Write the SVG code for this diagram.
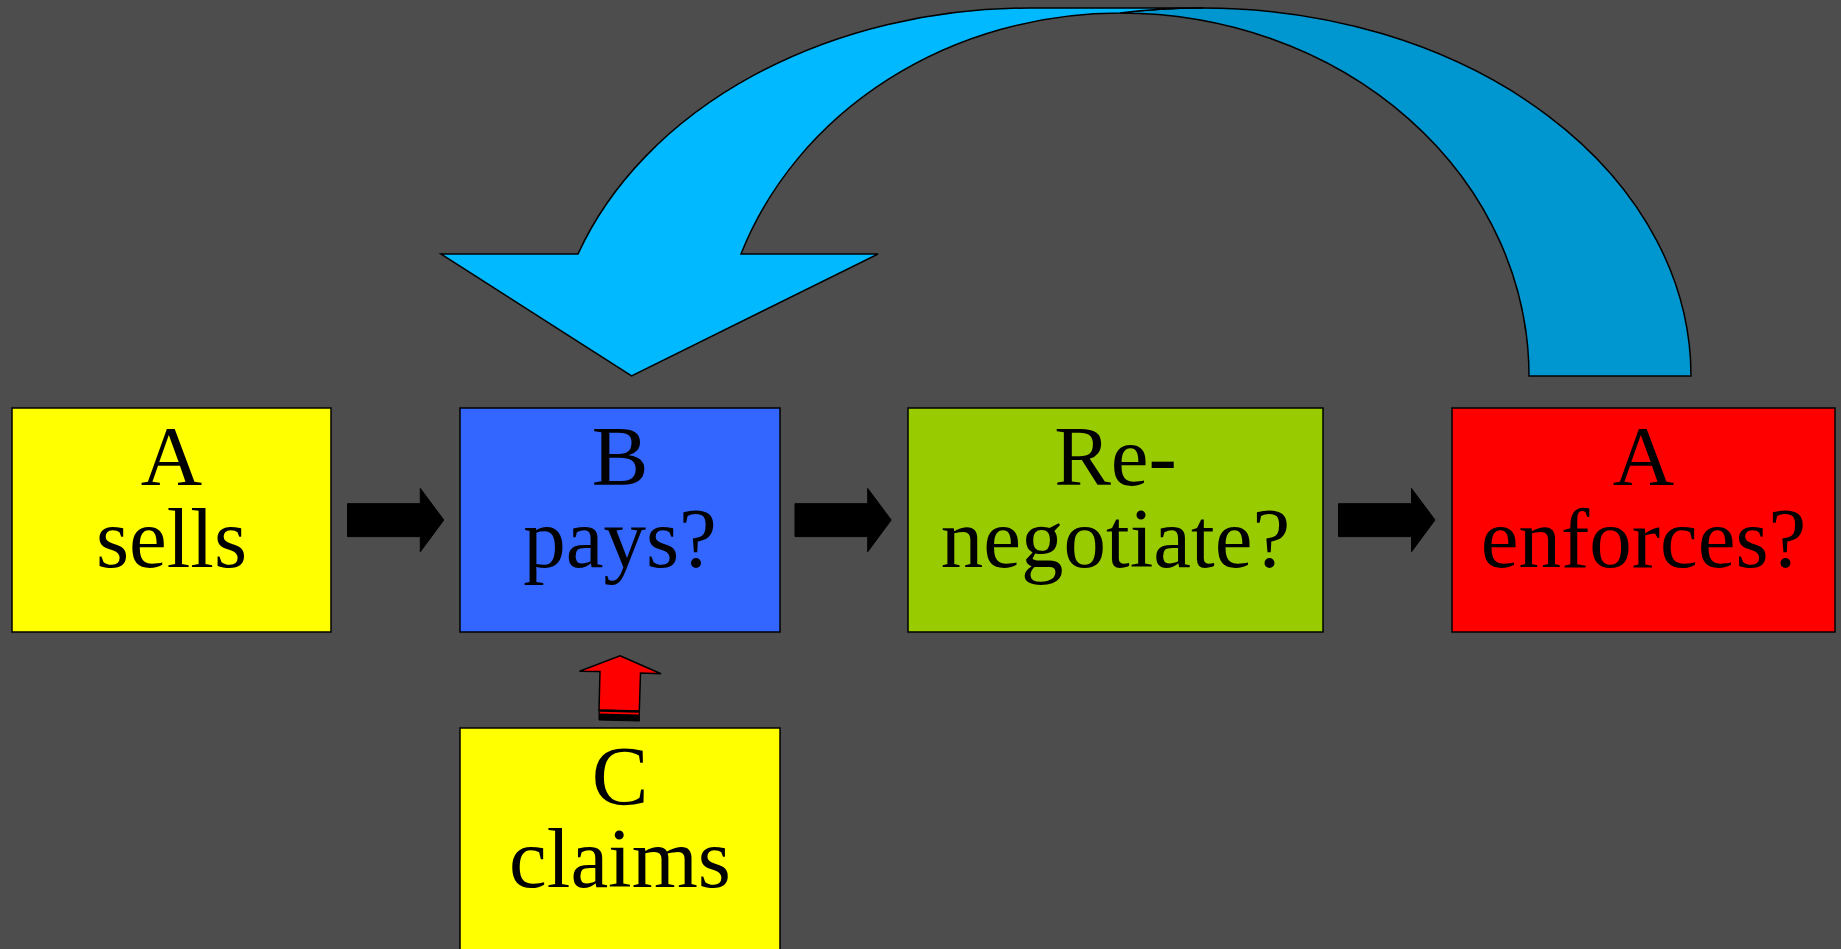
<svg xmlns="http://www.w3.org/2000/svg" width="1841" height="949" viewBox="0 0 1841 949">
<style>
.box{stroke:#000;stroke-width:1.5}
.lbl{font-family:"Liberation Serif","Times New Roman",serif;font-size:85px;fill:#000;text-anchor:middle}
.blk{fill:#000;stroke:#000;stroke-width:1}
.edge{stroke:#000;stroke-width:1.5;stroke-linejoin:miter}
</style>
<rect x="0" y="0" width="1841" height="949" fill="#4D4D4D"/>
<g id="connectors">
  <path class="edge" fill="#0096CF" d="M 1120 13 A 488 368 0 0 1 1203 8 A 488 368 0 0 1 1691 376 L 1529 376 A 409 363 0 0 0 1120 13 Z"/>
  <path class="edge" fill="#00B9FF" d="M 578 254 A 479 368 0 0 1 1030 8 L 1203 8 A 488 368 0 0 0 1120 13 A 403 363 0 0 0 741 254 L 878 254 L 631.6 376 L 441 254 Z"/>
  <polygon class="blk" points="347.5,503.7 420.3,503.7 420.3,488.4 443.8,520 420.3,551.8 420.3,536.6 347.5,536.6"/>
  <polygon class="blk" points="795,503.7 867.7,503.7 867.7,488.4 891.2,520 867.7,551.8 867.7,536.6 795,536.6"/>
  <polygon class="blk" points="1338.5,503.7 1411.5,503.7 1411.5,488.4 1435,520 1411.5,551.8 1411.5,536.6 1338.5,536.6"/>
  <polygon class="edge" fill="#FF0000" points="620,655.7 661,673.8 640.5,673 639.3,711 599,710 600,671.5 579.5,671.3"/>
  <polygon fill="#000" stroke="#000" stroke-width="1" points="599,710 639.5,711 639.5,721 599,720"/>
  <polygon fill="#FF0000" points="599.8,711.8 638.8,712.8 638.8,714.4 599.8,713.4"/>
</g>
<g id="node-a-sells">
  <rect class="box" x="12" y="408" width="319" height="224" fill="#FFFF00"/>
  <text class="lbl" x="171.5" y="485">A</text>
  <text class="lbl" x="171.5" y="567">sells</text>
</g>
<g id="node-b-pays">
  <rect class="box" x="460" y="408" width="320" height="224" fill="#3366FF"/>
  <text class="lbl" x="620" y="485">B</text>
  <text class="lbl" x="620" y="567">pays?</text>
</g>
<g id="node-renegotiate">
  <rect class="box" x="908" y="408" width="415" height="224" fill="#99CC00"/>
  <text class="lbl" x="1115.5" y="485">Re-</text>
  <text class="lbl" x="1115.5" y="567">negotiate?</text>
</g>
<g id="node-a-enforces">
  <rect class="box" x="1452" y="408" width="383" height="224" fill="#FF0000"/>
  <text class="lbl" x="1643.5" y="485">A</text>
  <text class="lbl" x="1643.5" y="567">enforces?</text>
</g>
<g id="node-c-claims">
  <rect class="box" x="460" y="728" width="320" height="240" fill="#FFFF00"/>
  <text class="lbl" x="620" y="805">C</text>
  <text class="lbl" x="620" y="887">claims</text>
</g>
</svg>
